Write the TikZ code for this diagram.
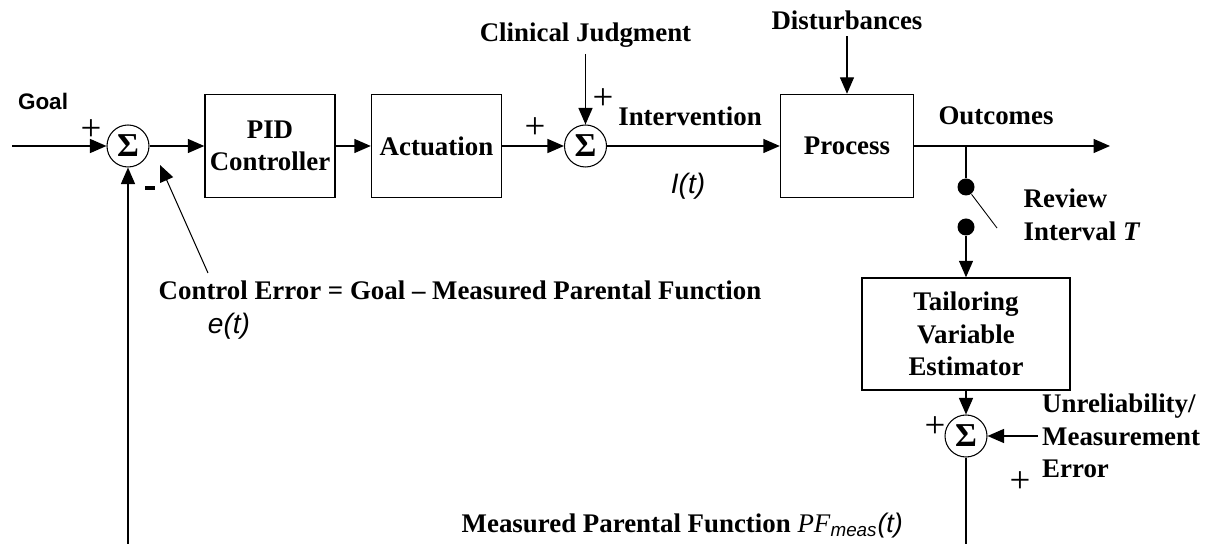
\documentclass[tikz,border=0pt]{standalone}
\usepackage{fontspec}
\setmainfont{Liberation Serif}
\setsansfont{Liberation Sans}
\usetikzlibrary{arrows.meta}

\begin{document}
\begin{tikzpicture}[x=0.2mm,y=-0.2mm,line width=0.8pt,
	font=\fontsize{15.3}{18.5}\selectfont\bfseries,
	block/.style={draw,minimum width=2.6cm,minimum height=2.06cm,align=center,inner sep=0pt},
	sumnode/.style={draw,circle,minimum size=0.84cm,inner sep=0pt,line width=0.6pt,font=\fontsize{19}{19}\selectfont\bfseries},
	sign/.style={font=\fontsize{21}{21}\selectfont\mdseries,inner sep=0pt},
	swdot/.style={circle,fill,minimum size=0.34cm,inner sep=0pt},
	flow/.style={-{Triangle[length=0.33cm,width=0.28cm]}},
	ital/.style={font=\fontsize{16}{16}\selectfont\sffamily\itshape}]
					\useasboundingbox (0,0) rectangle (1221,544);
					
					% forward path
					\path (43,101) node[font=\fontsize{12.8}{14}\selectfont\sffamily\bfseries] (goal) {Goal};
					\coordinate (in) at (12,146);
					\path (128,146) node[sumnode] (s1) {Σ};
					\path (270,146) node[block] (pid) {PID\\Controller};
					\path (436.5,146) node[block] (act) {Actuation};
					\path (585.5,146) node[sumnode] (s2) {Σ};
					\path (585.5,35) node (clin) {Clinical Judgment};
					\path (690,116) node (interv) {Intervention};
					\path (688,186) node[ital] (it) {I(t)};
					\path (847,146) node[block,minimum width=2.66cm] (proc) {Process};
					\path (847,20) node (dist) {Disturbances};
					\path (996,116) node (outc) {Outcomes};
					\coordinate (out) at (1110,146);
					\coordinate (br) at (966,146);
					
					% review switch and estimator
					\path (966,187) node[swdot] (d1) {};
					\path (966,227) node[swdot] (d2) {};
					\coordinate (sw) at (997,228);
					\path (1023,215) node[anchor=west,align=left,inner sep=0pt] (rev) {Review\\Interval \textit{T}};
					\path (966,334) node[block,minimum width=4.16cm,minimum height=2.24cm] (tail) {Tailoring\\Variable\\Estimator};
					\path (966,436) node[sumnode] (s3) {Σ};
					\path (1038,436) node[anchor=west,align=left,inner xsep=2pt,inner ysep=0pt] (unrel) {Unreliability/\\Measurement\\Error};
					
					% labels on the feedback
					\path (158,290) node[anchor=west,inner sep=0pt] (cerr) {Control Error = Goal -- Measured Parental Function};
					\path (229,326) node[ital] (et) {e(t)};
					\coordinate (errtip) at (160,165);
					\coordinate (errtail) at (208,273);
					\path (461,526) node[anchor=west,inner sep=0pt] (meas) {Measured Parental Function \textit{\mdseries PF}\textsubscript{\sffamily\itshape\mdseries meas}{\sffamily\itshape\mdseries (t)}};
					\coordinate (fbr) at (966,544);
					\coordinate (fbl) at (128,544);
					
					% signs
					\path (91,130) node[sign] (p1) {+};
					\path (150,188) node[inner sep=0pt] (m1) {\rule{0.2cm}{0.07cm}};
					\path (535,128) node[sign] (p2) {+};
					\path (603,99) node[sign] (p3) {+};
					\path (935,427) node[sign] (p4) {+};
					\path (1020,482) node[sign] (p5) {+};
					
					\draw[flow] (in) -- (s1);
					\draw[flow] (s1) -- (pid);
					\draw[flow] (pid) -- (act);
					\draw[flow] (act) -- (s2);
					\draw[flow] (clin) -- (s2);
					\draw[flow] (s2) -- (proc);
					\draw[flow] (dist) -- (proc);
					\draw[flow] (proc) -- (out);
					\draw (br) -- (d1);
					\draw[line width=0.5pt] (d1) -- (sw);
					\draw[flow] (d2) -- (tail);
					\draw[flow] (tail) -- (s3);
					\draw[flow] (unrel) -- (s3);
					\draw (s3) -- (fbr);
					\draw[flow] (fbl) -- (s1);
					\draw[flow,line width=0.6pt] (errtail) -- (errtip);
					\end{tikzpicture}
\end{document}
